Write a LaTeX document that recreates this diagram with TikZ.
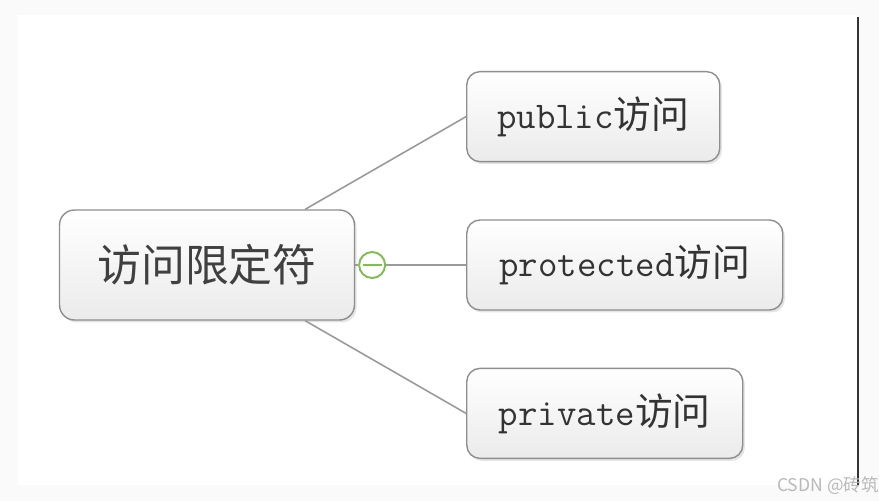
\documentclass[tikz,border=0pt]{standalone}
\usepackage{fontspec}
\newfontfamily\cjk{Noto Sans CJK SC}
\usetikzlibrary{positioning, shadows, calc}

\definecolor{boxline}{HTML}{8E8E8E}
\definecolor{linkgray}{HTML}{9A9A9A}
\definecolor{foldgreen}{HTML}{7DBE4E}

\begin{document}
\begin{tikzpicture}[
  x=0.02cm, y=-0.02cm,
  node distance=1.6cm,
  topic/.style={draw=boxline, line width=0.8pt, top color=white, bottom color=gray!16,
    drop shadow={shadow xshift=1.2pt, shadow yshift=-1.4pt, fill=gray!60, opacity=0.35}},
  root/.style={topic, rounded corners=8.5pt, minimum width=5.9cm, minimum height=2.2cm,
    font=\cjk\fontsize{25}{25}\selectfont, text=black!75},
  leaf/.style={topic, rounded corners=7.5pt, minimum height=1.8cm, anchor=west,
    font=\fontsize{21.5}{21.5}\selectfont, text=black!80},
  link/.style={linkgray, line width=0.9pt},
  fold/.style={circle, draw=foldgreen, line width=1.1pt, fill=white, minimum size=0.52cm, inner sep=0pt},
]

% frame
\useasboundingbox (0,0) rectangle (879,501);
\fill[gray!4] (0,0) rectangle (879,501);
\fill[white] (18,15) rectangle (858,485);
\draw[black!80, line width=1.5pt] (858,17) -- (858,485);

% topics
\node[root] (root) at (207,265) {访问限定符};
\node[fold, right=0.06cm of root] (fold) {};
\node[leaf, minimum width=6.32cm, right=1.6cm of fold] (prot) {\ttfamily protected\cjk 访问};
\node[leaf, minimum width=5.06cm, above=1.14cm of prot.north west, anchor=south west] (pub) {\ttfamily public\cjk 访问};
\node[leaf, minimum width=5.52cm, below=1.14cm of prot.south west, anchor=north west] (priv) {\ttfamily private\cjk 访问};

% branches
\draw[link] ([xshift=-1cm]root.north east) -- (pub.west);
\draw[link] ([xshift=-1cm]root.south east) -- (priv.west);
\draw[link] (root.east) -- (fold.west);
\draw[link] (fold.east) -- (prot.west);
\draw[foldgreen, line width=1.1pt] ([xshift=0.09cm]fold.west) -- ([xshift=-0.09cm]fold.east);

% watermark
\node[font=\cjk\fontsize{10}{10}\selectfont, text=gray!55] (mark) at (828,486) {CSDN @砖筑};

\end{tikzpicture}
\end{document}
